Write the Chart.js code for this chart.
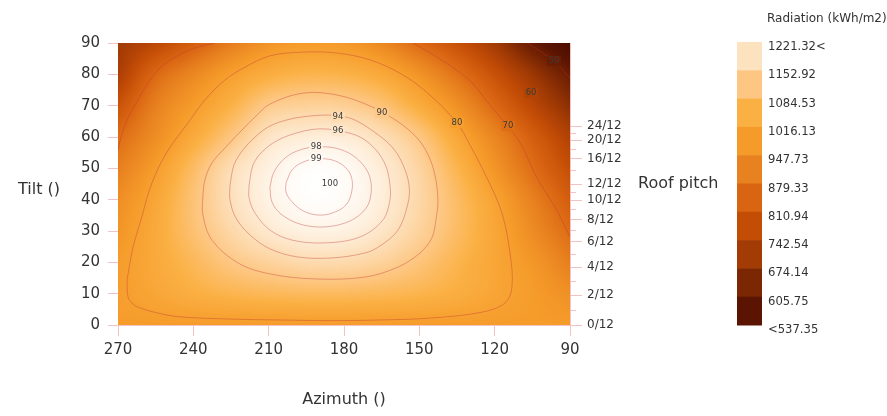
<!DOCTYPE html>
<html lang="en">
<head>
<meta charset="UTF-8">
<title>Radiation by tilt and azimuth</title>
<script src="https://cdn.jsdelivr.net/npm/chart.js"></script>
<style>
  html, body { margin: 0; padding: 0; background: #fff; }
  #wrap { width: 887px; height: 416px; }
</style>
</head>
<body>
<div id="wrap"><canvas id="chart" width="887" height="416"></canvas></div>
<script>
// grid of the surface: columns follow AZIMUTH, rows follow TILT
const AZIMUTH = [270, 255, 240, 225, 210, 195, 180, 165, 150, 135, 120, 105, 90];
const TILT = [0, 10, 20, 30, 40, 50, 60, 70, 80, 90];
// radiation in % of the maximum
const RADIATION_PCT = [
  [79.0, 79.0, 79.0, 79.0, 79.0, 79.0, 79.0, 79.0, 79.0, 79.0, 79.0, 79.0, 79.0],
  [79.3, 81.5, 83.6, 85.0, 85.9, 86.3, 86.3, 85.8, 84.9, 83.4, 81.3, 79.0, 76.5],
  [79.0, 82.4, 85.9, 89.4, 91.5, 93.0, 93.0, 91.5, 88.7, 85.1, 81.5, 78.0, 73.0],
  [77.5, 82.5, 87.9, 92.6, 95.9, 97.5, 97.4, 95.3, 91.6, 86.8, 81.6, 75.7, 69.5],
  [76.0, 81.6, 88.3, 94.2, 97.7, 99.6, 99.2, 96.8, 92.5, 86.9, 80.7, 73.5, 66.5],
  [73.0, 79.3, 86.8, 93.7, 97.4, 99.5, 99.1, 96.5, 91.9, 85.1, 77.5, 70.0, 63.0],
  [69.5, 76.0, 82.6, 89.1, 95.0, 96.6, 96.5, 94.0, 89.3, 81.8, 74.4, 66.9, 59.5],
  [64.0, 73.2, 79.0, 84.3, 90.0, 91.3, 91.0, 88.4, 83.1, 76.7, 69.1, 61.5, 54.4],
  [58.7, 68.8, 74.6, 79.7, 83.3, 84.9, 84.5, 82.2, 77.2, 70.7, 63.8, 56.6, 49.2],
  [57.0, 61.3, 66.8, 72.7, 77.1, 78.9, 78.2, 74.8, 69.1, 63.7, 57.3, 48.8, 42.0]
];
const MAX_RADIATION = 1289.7;

// legend classes (kWh/m2), top to bottom
const LEGEND_STEPS = [1221.32, 1152.92, 1084.53, 1016.13, 947.73, 879.33, 810.94, 742.54, 674.14, 605.75, 537.35];
const LEGEND_COLORS = ['#fde2c0', '#fdc783', '#fbb043', '#f59b2a', '#e8811f', '#d96412', '#c44d06', '#a33b04', '#7c2704', '#5b1401'];

const X_TICKS = [270, 240, 210, 180, 150, 120, 90];
const Y_TICKS = [0, 10, 20, 30, 40, 50, 60, 70, 80, 90];
const PITCH_MAJOR = [0, 2, 4, 6, 8, 10, 12, 16, 20, 24];
const PITCH_MINOR = [1, 3, 5, 7, 9, 11, 14, 18, 22];

// contour lines as [azimuth, tilt]
const C99 = [[203.1,45.3],[200.7,49.5],[196.3,52.0],[191.1,53.0],[184.8,52.7],[180.0,50.7],[177.2,47.6],[176.8,43.1],[179.2,38.3],[184.8,35.7],[190.4,35.1],[196.3,36.4],[200.7,39.3],[203.1,42.4],[203.1,45.3]];
const C98 = [[209.5,44.0],[207.9,48.8],[203.5,53.3],[197.5,55.9],[191.1,56.8],[183.6,56.5],[176.8,54.3],[172.0,50.7],[169.6,46.9],[169.2,42.1],[171.2,37.3],[177.6,33.2],[187.6,31.3],[197.5,32.2],[205.1,35.4],[208.7,39.3],[209.5,44.0]];
const C96 = [[217.8,44.7],[216.2,51.1],[212.7,55.2],[206.3,59.0],[197.5,61.6],[189.6,62.6],[181.6,61.9],[173.6,60.0],[167.3,55.9],[163.3,50.7],[161.7,44.7],[161.7,39.9],[164.5,33.5],[173.6,28.1],[187.6,26.2],[200.7,27.1],[209.5,30.3],[215.4,35.7],[217.8,40.5],[217.8,44.7]];
const C94 = [[225.4,44.7],[223.8,51.1],[220.2,55.9],[215.4,60.0],[209.5,63.5],[201.5,65.7],[193.5,66.7],[187.6,67.0],[181.6,66.7],[175.6,65.4],[166.9,61.0],[160.5,56.5],[156.5,51.1],[154.1,44.7],[154.5,38.9],[158.5,30.3],[165.7,25.2],[171.6,23.0],[184.8,21.4],[198.3,21.7],[209.5,24.3],[217.4,28.7],[223.0,34.1],[225.4,39.9],[225.4,44.7]];
const C90 = [[236.2,41.5],[235.4,46.3],[232.6,51.7],[227.4,56.5],[221.4,61.6],[215.4,66.4],[209.5,70.5],[196.3,74.0],[182.8,73.4],[169.6,69.9],[158.9,65.1],[150.9,59.7],[146.5,54.3],[143.8,47.9],[142.6,39.9],[143.4,33.5],[145.0,27.8],[149.7,23.0],[158.5,18.5],[171.6,15.3],[191.5,14.7],[209.5,16.3],[222.2,19.8],[232.6,27.1],[236.2,35.1],[236.2,41.5]];
const C80 = [[266.4,14.4],[266.0,8.9],[264.4,7.0],[262.0,5.7],[254.1,3.8],[245.3,2.6],[225.4,1.9],[205.5,1.6],[185.6,1.4],[165.7,1.6],[145.8,2.2],[125.0,4.1],[115.9,7.0],[113.1,12.1],[113.9,23.0],[117.1,35.7],[122.7,46.3],[129.8,57.4],[135.0,64.5],[145.8,73.4],[156.5,79.8],[169.6,84.6],[182.8,86.8],[196.3,87.1],[209.5,85.9],[219.4,82.3],[227.4,78.2],[235.4,71.8],[242.1,64.5],[250.5,55.2],[256.5,45.3],[261.2,32.6],[264.0,24.9],[266.4,14.4]];
const C70_WEST = [[270,55.9],[268.4,61.0],[266.0,66.1],[263.2,70.2],[258.1,77.2],[253.3,82.0],[247.3,85.5],[239.3,88.4],[231.4,90]];
const C70_EAST = [[152.5,90],[140.6,84.3],[129.8,77.9],[121.9,70.2],[115.1,63.8],[111.1,59.7],[108.7,56.5],[102.7,46.3],[96.0,37.7],[90,28.1]];
const C60_WEST = [[270,78.2],[267.6,81.4],[264.0,85.5],[258.5,90]];
const C60_EAST = [[124.6,90],[113.9,82.0],[105.9,74.0],[99.2,67.0],[91.2,59.7],[90,58.7]];
const C50 = [[107.1,90],[101.9,87.4],[96.4,84.3],[92.8,81.4],[90,78.8]];

const CONTOUR_TEXT = ['50', '60', '70', '80', '90', '94', '96', '98', '99', '100'];
const CONTOUR_TEXT_AT = [[96.4,84.3],[105.5,74.0],[114.7,63.5],[135.0,64.5],[164.9,67.7],[182.4,66.4],[182.4,61.9],[191.1,56.8],[191.1,53.0],[185.6,45.0]];

const FONT = '"DejaVu Sans", Verdana, sans-serif';
const PINK = '#f3c2c2';
const TEXT = '#333';

function pitchDeg(n) { return Math.atan(n / 12) * 180 / Math.PI; }

function hexRgb(h) {
  return [parseInt(h.slice(1, 3), 16), parseInt(h.slice(3, 5), 16), parseInt(h.slice(5, 7), 16)];
}

// colour stops, ascending
const STOPS = [[LEGEND_STEPS[10], hexRgb('#4a0c00')]];
for (let k = LEGEND_COLORS.length - 1; k >= 0; k--) STOPS.push([LEGEND_STEPS[k], hexRgb(LEGEND_COLORS[k])]);
STOPS.push([MAX_RADIATION, [255, 255, 255]]);

function colorFor(v) {
  if (v <= STOPS[0][0]) return STOPS[0][1];
  for (let i = 1; i < STOPS.length; i++) {
    if (v <= STOPS[i][0]) {
      const a = STOPS[i - 1], b = STOPS[i];
      const t = (v - a[0]) / (b[0] - a[0]);
      return [0, 1, 2].map(j => a[1][j] + (b[1][j] - a[1][j]) * t);
    }
  }
  return STOPS[STOPS.length - 1][1];
}

function cell(r, c) {
  const nr = TILT.length, nc = AZIMUTH.length;
  if (r < 0) return 2 * cell(0, c) - cell(1, c);
  if (r >= nr) return 2 * cell(nr - 1, c) - cell(nr - 2, c);
  if (c < 0) return 2 * cell(r, 0) - cell(r, 1);
  if (c >= nc) return 2 * cell(r, nc - 1) - cell(r, nc - 2);
  return RADIATION_PCT[r][c];
}

function cr(p0, p1, p2, p3, t) {
  return 0.5 * (2 * p1 + (p2 - p0) * t + (2 * p0 - 5 * p1 + 4 * p2 - p3) * t * t + (3 * p1 - p0 - 3 * p2 + p3) * t * t * t);
}

function pctAt(az, tilt) {
  const fc = (AZIMUTH[0] - az) / (AZIMUTH[0] - AZIMUTH[1]);
  const fr = (tilt - TILT[0]) / (TILT[1] - TILT[0]);
  let c = Math.min(Math.floor(fc), AZIMUTH.length - 2), r = Math.min(Math.floor(fr), TILT.length - 2);
  c = Math.max(c, 0); r = Math.max(r, 0);
  const tc = fc - c, tr = fr - r;
  const rows = [];
  for (let i = -1; i <= 2; i++) {
    rows.push(cr(cell(r + i, c - 1), cell(r + i, c), cell(r + i, c + 1), cell(r + i, c + 2), tc));
  }
  return cr(rows[0], rows[1], rows[2], rows[3], tr);
}

let heat = null;

const heatPlugin = {
  id: 'heat',
  beforeDatasetsDraw(chart) {
    const { ctx, chartArea: a, scales } = chart;
    const w = Math.round(a.right - a.left), h = Math.round(a.bottom - a.top);
    if (!heat) {
      heat = document.createElement('canvas');
      heat.width = w; heat.height = h;
      const hc = heat.getContext('2d');
      const img = hc.createImageData(w, h);
      for (let y = 0; y < h; y++) {
        const tilt = scales.y.getValueForPixel(a.top + y + 0.5);
        for (let x = 0; x < w; x++) {
          const az = scales.x.getValueForPixel(a.left + x + 0.5);
          const col = colorFor(pctAt(az, tilt) / 100 * MAX_RADIATION);
          const i = (y * w + x) * 4;
          img.data[i] = col[0]; img.data[i + 1] = col[1]; img.data[i + 2] = col[2]; img.data[i + 3] = 255;
        }
      }
      hc.putImageData(img, 0, 0);
    }
    ctx.drawImage(heat, a.left, a.top);
  },
  afterDatasetsDraw(chart) {
    const { ctx, chartArea: a, scales } = chart;
    const hc = heat.getContext('2d');
    ctx.save();
    ctx.font = '8.5px ' + FONT;
    ctx.textAlign = 'center';
    ctx.textBaseline = 'middle';
    CONTOUR_TEXT.forEach((t, i) => {
      const px = scales.x.getPixelForValue(CONTOUR_TEXT_AT[i][0]);
      const py = scales.y.getPixelForValue(CONTOUR_TEXT_AT[i][1]);
      const d = hc.getImageData(Math.round(px - a.left), Math.round(py - a.top), 1, 1).data;
      const tw = ctx.measureText(t).width;
      ctx.fillStyle = `rgb(${d[0]},${d[1]},${d[2]})`;
      ctx.fillRect(px - tw / 2 - 1.5, py - 5, tw + 3, 10);
      ctx.fillStyle = '#3a3a3a';
      ctx.fillText(t, px, py);
    });
    ctx.restore();
  },
  afterDraw(chart) {
    const { ctx, chartArea: a, scales } = chart;
    ctx.save();
    // minor roof pitch ticks
    ctx.strokeStyle = PINK;
    ctx.lineWidth = 1;
    PITCH_MINOR.forEach(n => {
      const y = Math.round(scales.y2.getPixelForValue(pitchDeg(n))) + 0.5;
      ctx.beginPath(); ctx.moveTo(a.right, y); ctx.lineTo(a.right + 6, y); ctx.stroke();
    });
    // axis titles
    ctx.fillStyle = TEXT;
    ctx.font = '16px ' + FONT;
    ctx.textBaseline = 'middle';
    ctx.textAlign = 'left';
    ctx.fillText('Tilt ()', 18, 190);
    ctx.fillText('Roof pitch', 638, 184);
    ctx.textAlign = 'center';
    ctx.fillText('Azimuth ()', 344, 400);
    // legend
    ctx.textAlign = 'left';
    ctx.font = '12px ' + FONT;
    ctx.fillText('Radiation (kWh/m2)', 767, 19);
    const bx = 737, bw = 25, by = 42, bh = 28.3;
    LEGEND_COLORS.forEach((c, i) => {
      ctx.fillStyle = c;
      ctx.fillRect(bx, by + i * bh, bw, bh + 0.5);
    });
    ctx.fillStyle = TEXT;
    ctx.font = '11.6px ' + FONT;
    LEGEND_STEPS.forEach((v, i) => {
      let s = v.toFixed(2);
      if (i === 0) s = s + '<';
      if (i === LEGEND_STEPS.length - 1) s = '<' + s;
      ctx.fillText(s, 768, by + i * bh + 5);
    });
    ctx.restore();
  }
};

const lineStyle = {
  showLine: true,
  pointRadius: 0,
  borderColor: 'rgba(190,50,50,0.42)',
  borderWidth: 0.9,
  tension: 0.35,
  fill: false
};

const contours = [C99, C98, C96, C94, C90, C80, C70_WEST, C70_EAST, C60_WEST, C60_EAST, C50];

new Chart(document.getElementById('chart'), {
  type: 'scatter',
  data: {
    datasets: contours.map(c => Object.assign({
      data: c.map(p => ({ x: p[0], y: p[1] }))
    }, lineStyle))
  },
  options: {
    responsive: false,
    animation: false,
    events: [],
    layout: { padding: { top: 43, left: 0, right: 0, bottom: 0 } },
    plugins: { legend: { display: false }, tooltip: { enabled: false } },
    scales: {
      x: {
        type: 'linear', min: 90, max: 270, reverse: true,
        afterBuildTicks: s => { s.ticks = X_TICKS.map(v => ({ value: v })); },
        afterFit: s => { s.height = 91; },
        ticks: { font: { family: FONT, size: 15 }, color: TEXT, padding: 5, maxRotation: 0, autoSkip: false },
        grid: { drawOnChartArea: false, tickLength: 11, tickColor: PINK },
        border: { color: PINK }
      },
      y: {
        type: 'linear', min: 0, max: 90, position: 'left',
        afterBuildTicks: s => { s.ticks = Y_TICKS.map(v => ({ value: v })); },
        afterFit: s => { s.width = 118; },
        ticks: { font: { family: FONT, size: 15 }, color: TEXT, padding: 8, autoSkip: false },
        grid: { drawOnChartArea: false, tickLength: 10, tickColor: PINK },
        border: { color: PINK }
      },
      y2: {
        type: 'linear', min: 0, max: 90, position: 'right',
        afterBuildTicks: s => { s.ticks = PITCH_MAJOR.map(n => ({ value: pitchDeg(n) })); },
        afterFit: s => { s.width = 317; },
        ticks: {
          font: { family: FONT, size: 12 }, color: TEXT, padding: 5, autoSkip: false,
          callback: (v, i) => PITCH_MAJOR[i] + '/12'
        },
        grid: { drawOnChartArea: false, tickLength: 12, tickColor: PINK },
        border: { color: PINK }
      }
    }
  },
  plugins: [heatPlugin]
});
</script>
</body>
</html>
